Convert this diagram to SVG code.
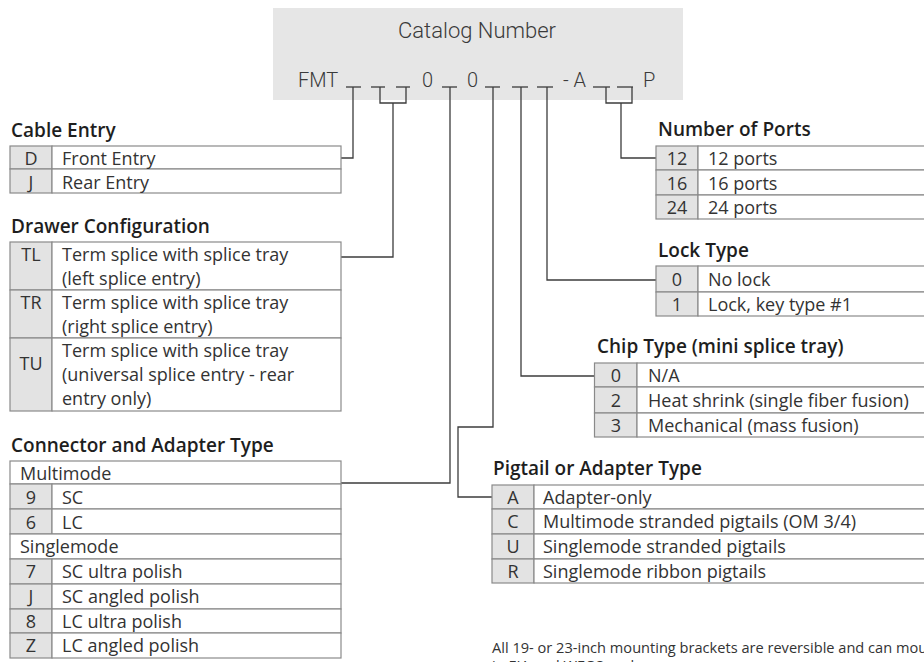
<svg xmlns="http://www.w3.org/2000/svg" width="924" height="662" viewBox="0 0 924 662">
<style>
.bg{fill:#fff}
.cat{fill:#e6e6e6}
.catt{font-family:Roboto,"Liberation Sans",sans-serif;font-weight:300;fill:#3a3a3a}
.hdr{font-family:"Open Sans","Liberation Sans",sans-serif;font-weight:600;font-size:19px;fill:#1e1e1e}
.t{font-family:"Open Sans","Liberation Sans",sans-serif;font-size:18px;fill:#333}
.c{text-anchor:middle}
.cell{fill:#fff;stroke:#8a8a8a;stroke-width:1.2}
.code{fill:#e3e3e3;stroke:#8a8a8a;stroke-width:1.2}
.conn{fill:none;stroke:#3c3c3c;stroke-width:1.3}
.blank{stroke:#3c3c3c;stroke-width:1.3}
.note{font-family:"Open Sans","Liberation Sans",sans-serif;font-size:14.6px;fill:#333}
</style>
<rect class="bg" x="0" y="0" width="924" height="662"/>

<g id="catalog-number">
<rect class="cat" x="273" y="8" width="410" height="92"/>
<text class="catt" x="477" y="38" font-size="22" text-anchor="middle">Catalog Number</text>
<text class="catt" x="298" y="87" font-size="20">FMT</text>
<text class="catt" x="422" y="87" font-size="20">0</text>
<text class="catt" x="467" y="87" font-size="20">0</text>
<text class="catt" x="563" y="87" font-size="20">- A</text>
<text class="catt" x="643" y="87" font-size="20">P</text>
<g class="blank">
<line x1="346" y1="87" x2="361" y2="87"/>
<line x1="371" y1="87" x2="385" y2="87"/>
<line x1="396" y1="87" x2="410" y2="87"/>
<line x1="442" y1="87" x2="457" y2="87"/>
<line x1="485" y1="87" x2="500" y2="87"/>
<line x1="512" y1="87" x2="528" y2="87"/>
<line x1="537" y1="87" x2="553" y2="87"/>
<line x1="593" y1="87" x2="610" y2="87"/>
<line x1="617" y1="87" x2="633" y2="87"/>
</g>
</g>

<g id="connectors">
<path class="conn" d="M353,87 V158 H341"/>
<path class="conn" d="M380,87 V103 H406 V87"/>
<path class="conn" d="M393,103 V257 H341"/>
<path class="conn" d="M450,87 V483 H341"/>
<path class="conn" d="M493,87 V427 H458 V497 H492"/>
<path class="conn" d="M521,87 V376 H594.5"/>
<path class="conn" d="M547,87 V280 H656"/>
<path class="conn" d="M606,87 V103 H632 V87"/>
<path class="conn" d="M621,103 V158 H656"/>
</g>

<g id="cable-entry">
<text class="hdr" x="11" y="137">Cable Entry</text>
<rect class="code" x="10" y="146" width="42" height="23"/><rect class="cell" x="52" y="146" width="289" height="23"/>
<rect class="code" x="10" y="169" width="42" height="24"/><rect class="cell" x="52" y="169" width="289" height="24"/>
<text class="t c" x="31" y="165">D</text><text class="t" x="62" y="165">Front Entry</text>
<text class="t c" x="31" y="189">J</text><text class="t" x="62" y="189">Rear Entry</text>
</g>

<g id="drawer-configuration">
<text class="hdr" x="11" y="233">Drawer Configuration</text>
<rect class="code" x="10" y="242" width="42" height="48"/><rect class="cell" x="52" y="242" width="289" height="48"/>
<rect class="code" x="10" y="290" width="42" height="48"/><rect class="cell" x="52" y="290" width="289" height="48"/>
<rect class="code" x="10" y="338" width="42" height="73"/><rect class="cell" x="52" y="338" width="289" height="73"/>
<text class="t c" x="31" y="261">TL</text>
<text class="t" x="62" y="261">Term splice with splice tray</text>
<text class="t" x="62" y="285">(left splice entry)</text>
<text class="t c" x="31" y="309">TR</text>
<text class="t" x="62" y="309">Term splice with splice tray</text>
<text class="t" x="62" y="333">(right splice entry)</text>
<text class="t c" x="31" y="370">TU</text>
<text class="t" x="62" y="357">Term splice with splice tray</text>
<text class="t" x="62" y="381">(universal splice entry - rear</text>
<text class="t" x="62" y="405">entry only)</text>
</g>

<g id="connector-adapter-type">
<text class="hdr" x="11" y="452">Connector and Adapter Type</text>
<rect class="cell" x="10" y="461" width="331" height="23"/>
<rect class="code" x="10" y="484" width="42" height="25"/><rect class="cell" x="52" y="484" width="289" height="25"/>
<rect class="code" x="10" y="509" width="42" height="25"/><rect class="cell" x="52" y="509" width="289" height="25"/>
<rect class="cell" x="10" y="534" width="331" height="25"/>
<rect class="code" x="10" y="559" width="42" height="25"/><rect class="cell" x="52" y="559" width="289" height="25"/>
<rect class="code" x="10" y="584" width="42" height="25"/><rect class="cell" x="52" y="584" width="289" height="25"/>
<rect class="code" x="10" y="609" width="42" height="24"/><rect class="cell" x="52" y="609" width="289" height="24"/>
<rect class="code" x="10" y="633" width="42" height="25"/><rect class="cell" x="52" y="633" width="289" height="25"/>
<text class="t" x="20" y="480">Multimode</text>
<text class="t c" x="31" y="504">9</text><text class="t" x="62" y="504">SC</text>
<text class="t c" x="31" y="529">6</text><text class="t" x="62" y="529">LC</text>
<text class="t" x="20" y="553">Singlemode</text>
<text class="t c" x="31" y="578">7</text><text class="t" x="62" y="578">SC ultra polish</text>
<text class="t c" x="31" y="603">J</text><text class="t" x="62" y="603">SC angled polish</text>
<text class="t c" x="31" y="628">8</text><text class="t" x="62" y="628">LC ultra polish</text>
<text class="t c" x="31" y="652">Z</text><text class="t" x="62" y="652">LC angled polish</text>
</g>

<g id="number-of-ports">
<text class="hdr" x="658" y="136">Number of Ports</text>
<rect class="code" x="656" y="146" width="42" height="24"/><rect class="cell" x="698" y="146" width="240" height="24"/>
<rect class="code" x="656" y="170" width="42" height="25"/><rect class="cell" x="698" y="170" width="240" height="25"/>
<rect class="code" x="656" y="195" width="42" height="24"/><rect class="cell" x="698" y="195" width="240" height="24"/>
<text class="t c" x="677" y="165">12</text><text class="t" x="708" y="165">12 ports</text>
<text class="t c" x="677" y="190">16</text><text class="t" x="708" y="190">16 ports</text>
<text class="t c" x="677" y="214">24</text><text class="t" x="708" y="214">24 ports</text>
</g>

<g id="lock-type">
<text class="hdr" x="658" y="257">Lock Type</text>
<rect class="code" x="656" y="266" width="42" height="26"/><rect class="cell" x="698" y="266" width="240" height="26"/>
<rect class="code" x="656" y="292" width="42" height="24"/><rect class="cell" x="698" y="292" width="240" height="24"/>
<text class="t c" x="677" y="286">0</text><text class="t" x="708" y="286">No lock</text>
<text class="t c" x="677" y="311">1</text><text class="t" x="708" y="311">Lock, key type #1</text>
</g>

<g id="chip-type">
<text class="hdr" x="597" y="353">Chip Type (mini splice tray)</text>
<rect class="code" x="594.5" y="363" width="42.5" height="24"/><rect class="cell" x="637" y="363" width="300" height="24"/>
<rect class="code" x="594.5" y="387" width="42.5" height="26"/><rect class="cell" x="637" y="387" width="300" height="26"/>
<rect class="code" x="594.5" y="413" width="42.5" height="24"/><rect class="cell" x="637" y="413" width="300" height="24"/>
<text class="t c" x="616" y="382">0</text><text class="t" x="648" y="382">N/A</text>
<text class="t c" x="616" y="407">2</text><text class="t" x="648" y="407">Heat shrink (single fiber fusion)</text>
<text class="t c" x="616" y="432">3</text><text class="t" x="648" y="432">Mechanical (mass fusion)</text>
</g>

<g id="pigtail-adapter-type">
<text class="hdr" x="493" y="475">Pigtail or Adapter Type</text>
<rect class="code" x="492" y="485" width="42" height="24"/><rect class="cell" x="534" y="485" width="400" height="24"/>
<rect class="code" x="492" y="509" width="42" height="25"/><rect class="cell" x="534" y="509" width="400" height="25"/>
<rect class="code" x="492" y="534" width="42" height="25"/><rect class="cell" x="534" y="534" width="400" height="25"/>
<rect class="code" x="492" y="559" width="42" height="24"/><rect class="cell" x="534" y="559" width="400" height="24"/>
<text class="t c" x="513" y="504">A</text><text class="t" x="543" y="504">Adapter-only</text>
<text class="t c" x="513" y="528">C</text><text class="t" x="543" y="528">Multimode stranded pigtails (OM 3/4)</text>
<text class="t c" x="513" y="553">U</text><text class="t" x="543" y="553">Singlemode stranded pigtails</text>
<text class="t c" x="513" y="578">R</text><text class="t" x="543" y="578">Singlemode ribbon pigtails</text>
</g>

<g id="note">
<text class="note" x="492" y="653">All 19- or 23-inch mounting brackets are reversible and can mount</text>
<text class="note" x="492" y="671">in EIA and WECO racks</text>
</g>
</svg>
